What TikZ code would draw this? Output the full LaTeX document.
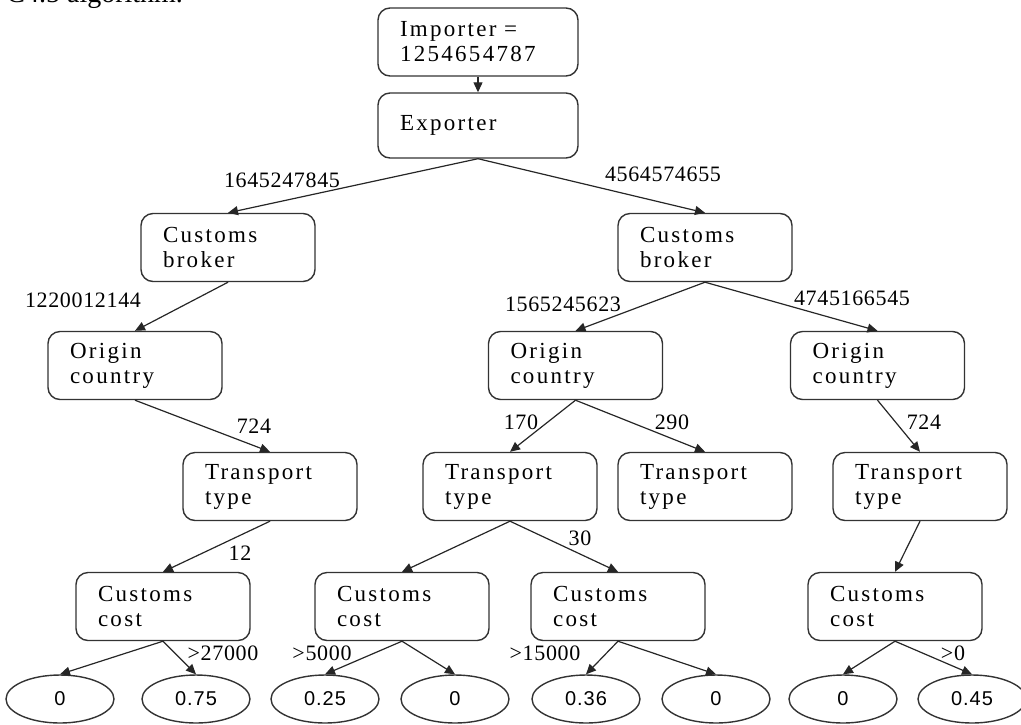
\documentclass[tikz,border=0pt]{standalone}
\usepackage{fontspec}
\setmainfont{Liberation Serif}
\newfontfamily\leaffont{Liberation Sans}[LetterSpace=5]
\usetikzlibrary{arrows.meta,shapes.geometric}

\begin{document}
\begin{tikzpicture}[x=0.5pt,y=-0.5pt,
    box/.style={draw=black!80,line width=0.7pt,rounded corners=6pt,
      minimum width=87pt,minimum height=34pt,text width=65pt,inner xsep=11pt,
      align=left,font=\fontsize{11.5}{12.5}\selectfont\addfontfeature{LetterSpace=10}},
    wide/.style={box,minimum width=100pt,text width=78pt},
    leaf/.style={draw=black!80,line width=0.7pt,ellipse,minimum width=54pt,
      minimum height=24pt,inner sep=0pt,font=\fontsize{10}{12}\leaffont},
    lbl/.style={inner sep=0pt,font=\fontsize{11}{12}\selectfont\addfontfeature{LetterSpace=3}},
    edge/.style={draw=black!85,line width=0.6pt,-{Triangle[length=5pt,width=4.5pt]}}]

    \useasboundingbox (0,0) rectangle (1021,724);
    \clip (0,0) rectangle (1021,724);

    % Caption line cut off at the top
    \node[anchor=base west,inner sep=0pt,font=\fontsize{14}{16}\selectfont] (cap) at (6,2) {C4.5 algorithm.};

    % Draw the boxes
    \node[wide] (imp) at (478,42) {Importer =\\1254654787};
    \node[wide,minimum height=32.5pt] (exp) at (478,125.5) {Exporter};
    \node[box] (cbL) at (228,247.5) {Customs\\broker};
    \node[box] (cbR) at (705,247.5) {Customs\\broker};
    \node[box] (ocL) at (135,365.5) {Origin\\country};
    \node[box] (ocM) at (575.5,365.5) {Origin\\country};
    \node[box] (ocR) at (877.5,365.5) {Origin\\country};
    \node[box] (ttL) at (270,486.5) {Transport\\type};
    \node[box] (ttA) at (510,486.5) {Transport\\type};
    \node[box] (ttB) at (705,486.5) {Transport\\type};
    \node[box] (ttR) at (920,486.5) {Transport\\type};
    \node[box] (ccL) at (163,606.5) {Customs\\cost};
    \node[box] (ccA) at (402,606.5) {Customs\\cost};
    \node[box] (ccB) at (618,606.5) {Customs\\cost};
    \node[box] (ccR) at (895,606.5) {Customs\\cost};

    % Draw the leaves
    \node[leaf] (v1) at (60,699) {0};
    \node[leaf] (v2) at (196,699) {0.75};
    \node[leaf] (v3) at (325,699) {0.25};
    \node[leaf] (v4) at (455,699) {0};
    \node[leaf] (v5) at (586,699) {0.36};
    \node[leaf] (v6) at (716,699) {0};
    \node[leaf] (v7) at (843,699) {0};
    \node[leaf] (v8) at (972,699) {0.45};

    % Draw the edges
    \draw[edge] (imp.south) -- (exp.north);
    \draw[edge] (exp.south) -- (cbL.north);
    \draw[edge] (exp.south) -- (cbR.north);
    \draw[edge] (cbL.south) -- (ocL.north);
    \draw[edge] (cbR.south) -- (ocM.north);
    \draw[edge] (cbR.south) -- (ocR.north);
    \draw[edge] (ocL.south) -- (ttL.north);
    \draw[edge] (ocM.south) -- (ttA.north);
    \draw[edge] (ocM.south) -- (ttB.north);
    \draw[edge] (ocR.south) -- (ttR.north);
    \draw[edge] (ttL.south) -- (ccL.north);
    \draw[edge] (ttA.south) -- (ccA.north);
    \draw[edge] (ttA.south) -- (ccB.north);
    \draw[edge] (ttR.south) -- (ccR.north);
    \draw[edge] (ccL.south) -- (v1.north);
    \draw[edge] (ccL.south) -- (v2.north);
    \draw[edge] (ccA.south) -- (v3.north);
    \draw[edge] (ccA.south) -- (v4.north);
    \draw[edge] (ccB.south) -- (v5.north);
    \draw[edge] (ccB.south) -- (v6.north);
    \draw[edge] (ccR.south) -- (v7.north);
    \draw[edge] (ccR.south) -- (v8.north);

    % Edge labels
    \node[lbl] (w1) at (282,180) {1645247845};
    \node[lbl] (w2) at (663,174) {4564574655};
    \node[lbl] (w3) at (83,300) {1220012144};
    \node[lbl] (w4) at (563,304) {1565245623};
    \node[lbl] (w5) at (852,298) {4745166545};
    \node[lbl] (w6) at (254,426) {724};
    \node[lbl] (w7) at (521,422) {170};
    \node[lbl] (w8) at (672,422) {290};
    \node[lbl] (w9) at (924,422) {724};
    \node[lbl] (w10) at (240,553) {12};
    \node[lbl] (w11) at (580,538) {30};
    \node[lbl] (w12) at (223,653) {>27000};
    \node[lbl] (w13) at (322,653) {>5000};
    \node[lbl] (w14) at (545,653) {>15000};
    \node[lbl] (w15) at (953,653) {>0};
\end{tikzpicture}
\end{document}
